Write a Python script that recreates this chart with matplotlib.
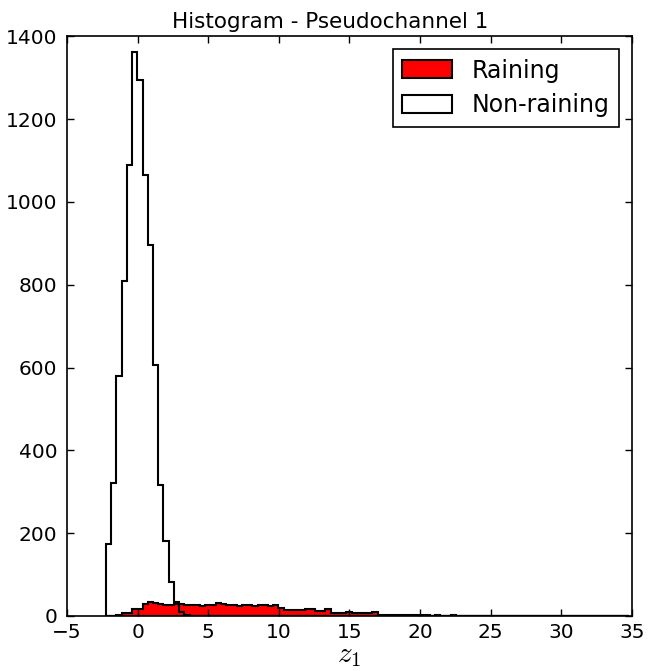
import numpy as np
from matplotlib import pyplot as plt

plt.rcParams['mathtext.fontset'] = 'cm'

# histogram bins (shared by both classes)
bin_start = -2.24
bin_width = 0.37
n_bins = 100

non_raining = [173, 322, 579, 808, 1089, 1363, 1294, 1066, 895, 605,
               316, 182, 82, 34, 10, 3, 1, 1, 0, 1,
               0, 1, 0, 0, 1, 0, 0, 1, 0, 0,
               0, 0, 1, 0, 0, 0, 0, 0, 1, 0,
               0, 0, 0, 1, 0, 0, 0, 0, 0, 0,
               1, 0, 0, 0, 0, 0, 0, 0, 0, 0,
               0, 1, 0, 0, 0, 0, 0, 0, 0, 0,
               0, 0, 0, 0, 0, 0, 0, 0, 0, 0,
               0, 0, 0, 0, 0, 0, 0, 0, 0, 0,
               0, 0, 0, 0, 0, 0, 0, 0, 0, 0]

raining = [0, 0, 3, 7, 7, 16, 16, 28, 34, 32,
           28, 27, 27, 30, 28, 26, 27, 27, 25, 26,
           26, 31, 28, 27, 26, 23, 26, 26, 25, 26,
           27, 24, 26, 20, 15, 15, 14, 15, 16, 18,
           12, 12, 16, 7, 7, 6, 9, 7, 6, 6,
           6, 9, 3, 3, 2, 2, 2, 2, 3, 3,
           2, 2, 1, 2, 1, 1, 2, 1, 1, 0,
           1, 1, 0, 1, 0, 1, 1, 0, 1, 0,
           0, 1, 0, 0, 1, 0, 0, 0, 1, 0,
           0, 1, 0, 0, 0, 0, 0, 1, 0, 0]

edges = bin_start + bin_width * np.arange(n_bins + 1)
centers = edges[:-1] + bin_width / 2

fig = plt.figure(figsize=(6.6, 6.71), dpi=100)
ax = fig.add_axes([0.1015, 0.082, 0.856, 0.864])

ax.hist(centers, bins=edges, weights=raining, histtype='stepfilled',
        facecolor='red', edgecolor='black', linewidth=1.5, label='Raining')
ax.hist(centers, bins=edges, weights=non_raining, histtype='stepfilled',
        facecolor='none', edgecolor='black', linewidth=1.5, label='Non-raining')

ax.set_xlim(-5, 35)
ax.set_ylim(0, 1400)
ax.set_xticks(np.arange(-5, 36, 5))
ax.set_yticks(np.arange(0, 1401, 200))
ax.tick_params(direction='in', top=True, right=True, length=5, width=1,
               labelsize=14.5, pad=5)
ax.tick_params(axis='y', pad=7)
for sp in ax.spines.values():
    sp.set_linewidth(1.2)

# title is centred on the figure, not on the axes
fig.suptitle('Histogram - Pseudochannel 1', fontsize=15.5, x=0.5, y=0.953,
             va='bottom')
ax.set_xlabel('$z_1$', fontsize=21, labelpad=-1)

leg = ax.legend(loc='upper right', fontsize=17, fancybox=False,
                edgecolor='black', framealpha=1, handlelength=2.1,
                handleheight=0.8, handletextpad=0.85, borderaxespad=0.55,
                borderpad=0.4, labelspacing=0.45)
leg.get_frame().set_linewidth(1.2)

plt.savefig('out.png', dpi=100)
